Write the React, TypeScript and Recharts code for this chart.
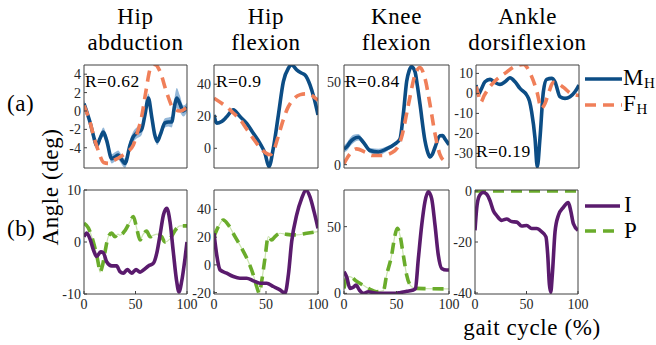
import React from 'react';
import { ComposedChart, Line, Area, XAxis, YAxis } from 'recharts';

// ---------------- tick labels ----------------
const xTicks = [0, 50, 100];
const ticksA1 = [-4, -2, 0, 2, 4];
const ticksA2 = [0, 20, 40];
const ticksA3 = [0, 50];
const ticksA4 = [-30, -20, -10, 0, 10];
const ticksB1 = [-10, 0, 10];
const ticksB2 = [-20, 0, 20, 40];
const ticksB3 = [0, 50];
const ticksB4 = [-40, -20, 0];

const titles = [['Hip', 'abduction'], ['Hip', 'flexion'], ['Knee', 'flexion'], ['Ankle', 'dorsiflexion']];
const rValues = ['R=0.62', 'R=0.9', 'R=0.84', 'R=0.19'];

// ---------------- (a) hip abduction ----------------
const abdMx = [0, 3, 5.8, 9, 12.3, 15.5, 18.8, 22, 26.9, 30, 33.3, 36, 39.8, 44.7, 47.9, 51.1, 56, 59.2, 62.5, 65.7, 68.5, 71.2, 74, 78.6, 82, 85.1, 88, 90, 93, 96.4, 100];
const abdMy = [0.8, -0.2, -1.2, -2.6, -3.8, -3.0, -2.3, -3.2, -5.2, -5.0, -4.8, -5.2, -5.7, -3.7, -2.8, -2.4, -2.0, -0.4, 1.4, -0.6, -2.5, -3.3, -2.6, -1.3, -1.2, -1.2, 0.6, 1.4, 0.8, 0.0, 0.4];
const abdMsd = [0.4, 0.4, 0.4, 0.4, 0.4, 0.4, 0.5, 0.5, 0.5, 0.5, 0.5, 0.5, 0.5, 0.6, 0.6, 0.6, 0.6, 0.5, 0.5, 0.5, 0.4, 0.4, 0.4, 0.5, 0.5, 0.6, 0.9, 1.1, 0.9, 0.6, 0.5];
const abdFx = [0, 5.8, 10, 12.3, 16, 19, 24, 28.5, 35, 41.4, 47.9, 51.1, 56, 60.2, 64, 67.3, 70, 73.8, 80.3, 86.7, 93.2, 100];
const abdFy = [0.6, -1.2, -3.0, -3.8, -5.0, -5.6, -5.7, -5.4, -5.0, -4.5, -3.7, -2.6, -0.6, 2.2, 4.5, 5.1, 5.0, 4.3, 2.0, 0.3, 0.0, 0.4];

// ---------------- (a) hip flexion ----------------
const flxMx = [0, 2.6, 7.4, 12, 18.6, 25, 31.4, 37.8, 44.2, 49, 52.9, 57, 61.9, 66.7, 71.5, 74.7, 79.5, 84, 87.5, 92.3, 96.2, 100];
const flxMy = [20.8, 15.6, 16.7, 19.5, 24, 19.8, 15.6, 9.4, 3.1, -3.1, -11.5, 0, 20.8, 41.6, 50, 52, 49, 47, 45.8, 39.6, 31.3, 20.8];
const flxFx = [0, 7.4, 12, 18.6, 25, 31.4, 37.8, 44.2, 50, 54, 57, 62, 66.7, 71.5, 77, 83, 88, 93, 97, 100];
const flxFy = [31.3, 28.1, 26, 22, 18, 12, 6, 0.5, -3, -4, -2, 8, 18, 26, 31, 33.5, 34, 33.5, 31.5, 30];

// ---------------- (a) knee flexion ----------------
const knMx = [0, 3, 5.7, 9, 13.7, 18.4, 24.8, 32.7, 40.6, 48.6, 53.3, 56.5, 59.7, 62, 64.4, 67.6, 70, 72.4, 77.1, 80, 81.9, 84, 86.7, 91.4, 94, 96.2, 100];
const knMy = [9.5, 11, 13.5, 15.5, 16.5, 13.5, 8.5, 7.6, 9.5, 12.5, 15.5, 30.4, 50.2, 56.5, 59, 56, 47, 36.3, 14.5, 7, 4.6, 6, 10.5, 17.4, 17.5, 15.5, 12];
const knMsd = [2, 2.5, 2.5, 2.5, 2, 1.5, 1.5, 2, 1.5, 1, 1, 1, 1, 1, 1, 1, 1, 1, 1, 1, 1, 1, 1, 1, 1, 1, 1];
const knFx = [0, 5.7, 12, 20, 27, 36, 48.6, 54.8, 61.3, 67.6, 72.4, 77.1, 81.9, 86.7, 91.4, 96, 100];
const knFy = [0.6, 6.5, 9.5, 7.6, 5.5, 5.5, 8.5, 16.5, 36, 54, 58.5, 52, 36.3, 18.5, 6, 2, 0.5];

// ---------------- (a) ankle dorsiflexion ----------------
const ankMx = [0, 2.3, 5, 8.7, 13.6, 18.4, 23.3, 28.2, 33, 37.9, 42.7, 49.2, 52, 54, 57.3, 59.5, 62.1, 65.4, 68.6, 73.5, 76.7, 81.6, 86.4, 91.3, 96.1, 100];
const ankMy = [4.2, -0.5, 2, 5.8, 7, 5.5, 4.5, 5.8, 7.8, 5.8, 2.5, -0.8, -4, -9.2, -22.5, -36.7, -22.5, 0.8, 7, 7.5, 5.8, -1.7, -2.5, -1.7, 0.8, 4.2];
const ankFx = [0, 2.5, 4.5, 8, 13, 18, 28, 37, 46, 52.7, 59.2, 63.5, 67, 71, 75, 79, 85, 92, 100];
const ankFy = [3.5, -1, -4.5, -1, 3, 6, 10, 13.3, 14.5, 10, 0.8, -7.5, -5, 1, 5.5, 5, 3, 0, -1];

// ---------------- (b) hip abduction ----------------
const bAbdIx = [0, 2.6, 5.8, 9.1, 12.3, 16.2, 18.8, 22, 26.9, 31.7, 34.9, 38.2, 42, 46.3, 50.5, 54.4, 58.3, 62.5, 67.3, 70.6, 73.8, 77.1, 80.3, 83.5, 86.7, 90, 92.2, 94.8, 98.1, 100];
const bAbdIy = [1.0, 1.7, 0.6, -1.5, -2.8, -1.9, -2.1, -3.8, -4.6, -4.6, -5.7, -6.0, -5.3, -6.0, -5.3, -5.8, -5.3, -4.6, -4.1, -2.2, 1.3, 5.2, 6.5, 3.9, -1.9, -7.6, -9.6, -7.6, -3.1, 0];
const bAbdPx = [0, 4.2, 9.1, 13.9, 15.5, 18, 20.4, 23.6, 26.9, 30.1, 33, 35, 39.8, 44.7, 47.9, 51.1, 54.4, 57.5, 60.8, 64.1, 67.3, 71, 75.4, 78.6, 83.5, 88.3, 93.2, 100];
const bAbdPy = [3.6, 2.7, 0, -4.1, -5.8, -4.5, -1.9, 1.0, 1.7, 1.0, 1.5, 1.3, 2.2, 3.9, 4.9, 2.7, 0.4, 1.5, 2.1, 1.0, 1.3, 1.5, 1.0, 0, 0.6, 2.2, 3.1, 3.1];

// ---------------- (b) hip flexion ----------------
const bFlxIx = [0, 2.6, 5.8, 12.2, 18.6, 25, 31.4, 37.8, 44.2, 50.6, 57.1, 63.5, 68.3, 71.5, 74.7, 79.5, 84.3, 88.5, 92.3, 96.2, 100];
const bFlxIy = [22.8, 7.2, -3.6, -6, -8.4, -9.6, -9.6, -11.5, -13.2, -13.2, -15.6, -18, -20.4, -7.2, 16.8, 36, 48, 54, 49, 38.4, 26.4];
const bFlxPx = [0, 4.2, 9, 13.8, 20.2, 26.6, 33, 37.8, 41, 43.6, 45.8, 49, 52.2, 55.4, 58.6, 63.5, 69.9, 79.5, 89.1, 100];
const bFlxPy = [20.4, 27.6, 32.4, 28.8, 20.4, 12, 2.4, -7.2, -15.6, -20.4, -12, 4.8, 20.4, 18, 20.4, 22.8, 22, 21.6, 22.8, 24];

// ---------------- (b) knee flexion ----------------
const bKnIx = [0, 2.5, 5.7, 8.9, 11.4, 14.6, 18.4, 23.2, 28, 34.3, 47, 53, 59.7, 66, 68, 70.8, 74, 77.1, 80.3, 83.5, 86.7, 89.8, 93, 97.8, 100];
const bKnIy = [16.2, 12.5, 3.7, 4.5, 6.2, 2.5, 0, 1.2, 0.5, 0, 0, 0.5, 1.5, 2.5, 3.5, 26, 51, 68.7, 76.2, 71, 51, 28.7, 18.7, 17.5, 17.5];
const bKnPx = [0, 2.5, 5.7, 12, 18.4, 24.8, 31.1, 37.5, 40.6, 45.4, 48.6, 50.8, 53.3, 56.5, 59.7, 64.4, 69.2, 78.7, 100];
const bKnPy = [3.7, 11.2, 12.5, 9, 6, 3, 1.2, 2, 13.7, 28.7, 43.7, 48.7, 43.7, 28.7, 13.7, 5, 3.7, 3.5, 3.3];

// ---------------- (b) ankle dorsiflexion ----------------
const bAnkIx = [0, 1.6, 4.2, 8, 11.3, 14.6, 17.8, 21, 25.9, 30.7, 35.6, 40.5, 45.3, 50.2, 55, 59.9, 64.7, 68.9, 70.6, 72.2, 73.5, 75.1, 77.7, 80.9, 85.8, 90.6, 92.9, 95.5, 100];
const bAnkIy = [-15.4, -7, -1.9, -0.6, -1.2, -3.8, -7.7, -9.6, -11.5, -11, -12, -12.2, -13.7, -13.5, -14.7, -14.7, -16, -18, -25, -36.5, -39.7, -32.7, -16, -9.6, -6.4, -4.5, -7.7, -12.8, -15.4];
const bAnkPx = [0, 100];
const bAnkPy = [0, 0];

// ---------------- styling ----------------
const C_M = '#0c4d85';
const C_BAND = '#93b7d8';
const C_F = '#f07f59';
const C_I = '#5a1b6d';
const C_P = '#6aac2b';
const C_PL = '#cbe4b0';
const DASH = '11 7';
const LWID = 3.6;
const SERIF = "'Liberation Serif', 'Times New Roman', serif";

type Pt = { x: number; y: number; band?: number[] };
const pts = (xs: number[], ys: number[]): Pt[] => xs.map((x, i) => ({ x, y: ys[i] }));
const bandPts = (xs: number[], ys: number[], sd: number[]): Pt[] =>
  xs.map((x, i) => ({ x, y: ys[i], band: [ys[i] - sd[i], ys[i] + sd[i]] }));

type S = { data: Pt[]; color: string; width: number; dash?: string };

function Panel(p: {
  box: number[];
  yDomain: number[];
  yTicks: number[];
  showX: boolean;
  band?: Pt[];
  lines: S[];
}) {
  const [x0, x1, y0, y1] = p.box;
  const LW = 40, RW = 4, TH = 4;
  const MT = 10, MR = 16;
  const BH = p.showX ? 24 : 4;
  const width = x1 - x0 + LW + RW + MR;
  const height = y1 - y0 + TH + BH + MT;
  const axisStroke = '#404040';
  const tickStyle = { fontFamily: SERIF, fontSize: 14, fill: '#262626' };
  return (
    <div style={{ position: 'absolute', left: x0 - LW, top: y0 - TH - MT, width, height }}>
      <ComposedChart width={width} height={height} data={p.band || []} margin={{ top: MT, right: MR, bottom: 0, left: 0 }}>
        <XAxis xAxisId="b" dataKey="x" type="number" domain={[0, 100]} ticks={xTicks} allowDataOverflow interval={0}
          height={BH} tickSize={-3} tickMargin={p.showX ? 8 : 0} tick={p.showX ? tickStyle : false} stroke={axisStroke} />
        <XAxis xAxisId="t" orientation="top" dataKey="x" type="number" domain={[0, 100]} ticks={xTicks} allowDataOverflow interval={0}
          height={TH} tickSize={-3} tick={false} stroke={axisStroke} />
        <YAxis yAxisId="l" type="number" domain={p.yDomain} ticks={p.yTicks} allowDataOverflow interval={0}
          width={LW} tickSize={-3} tickMargin={6} tick={tickStyle} stroke={axisStroke} />
        <YAxis yAxisId="r" orientation="right" type="number" domain={p.yDomain} ticks={p.yTicks} allowDataOverflow interval={0}
          width={RW} tickSize={-3} tick={false} stroke={axisStroke} />
        {p.band && (
          <Area xAxisId="b" yAxisId="l" dataKey="band" type="monotone" stroke="none" fill={C_BAND} fillOpacity={1}
            isAnimationActive={false} activeDot={false} />
        )}
        {p.lines.map((s, i) => (
          <Line key={i} xAxisId="b" yAxisId="l" data={s.data} dataKey="y" type="monotone" stroke={s.color}
            strokeWidth={s.width} strokeDasharray={s.dash} dot={false} activeDot={false} isAnimationActive={false} />
        ))}
      </ComposedChart>
    </div>
  );
}

const boxesA = [[84, 187, 65, 168], [214, 318, 65, 168], [344, 449, 65, 168], [476, 579, 65, 168]];
const boxesB = [[84, 187, 190, 294], [214, 318, 190, 294], [344, 449, 190, 294], [475, 578, 190, 294]];

export default function App() {
  const abdM = bandPts(abdMx, abdMy, abdMsd);
  const knM = bandPts(knMx, knMy, knMsd);
  const pThin = (d: Pt[]): S => ({ data: d, color: C_PL, width: 1.2 });
  const pDash = (d: Pt[]): S => ({ data: d, color: C_P, width: LWID, dash: DASH });
  const iLine = (d: Pt[]): S => ({ data: d, color: C_I, width: LWID });
  const mLine = (d: Pt[]): S => ({ data: d, color: C_M, width: LWID });
  const fLine = (d: Pt[]): S => ({ data: d, color: C_F, width: LWID, dash: DASH });

  const rPos = [[85, 86.5], [216, 86.5], [345, 86.5], [476, 156.5]];
  const big = { fontFamily: SERIF, fontSize: 23, letterSpacing: 0.6 };

  return (
    <div style={{ position: 'absolute', left: 0, top: 0, width: 656, height: 345, background: '#fff', overflow: 'hidden' }}>
      <Panel box={boxesA[0]} yDomain={[-6.2, 5]} yTicks={ticksA1} showX={false} band={abdM}
        lines={[mLine(abdM), fLine(pts(abdFx, abdFy))]} />
      <Panel box={boxesA[1]} yDomain={[-12.3, 52]} yTicks={ticksA2} showX={false}
        lines={[mLine(pts(flxMx, flxMy)), fLine(pts(flxFx, flxFy))]} />
      <Panel box={boxesA[2]} yDomain={[-2, 60]} yTicks={ticksA3} showX={false} band={knM}
        lines={[mLine(knM), fLine(pts(knFx, knFy))]} />
      <Panel box={boxesA[3]} yDomain={[-37.3, 14.2]} yTicks={ticksA4} showX={false}
        lines={[mLine(pts(ankMx, ankMy)), fLine(pts(ankFx, ankFy))]} />

      <Panel box={boxesB[0]} yDomain={[-10, 10]} yTicks={ticksB1} showX
        lines={[pThin(pts(bAbdPx, bAbdPy)), pDash(pts(bAbdPx, bAbdPy)), iLine(pts(bAbdIx, bAbdIy))]} />
      <Panel box={boxesB[1]} yDomain={[-21, 54]} yTicks={ticksB2} showX
        lines={[pThin(pts(bFlxPx, bFlxPy)), pDash(pts(bFlxPx, bFlxPy)), iLine(pts(bFlxIx, bFlxIy))]} />
      <Panel box={boxesB[2]} yDomain={[-0.5, 77.5]} yTicks={ticksB3} showX
        lines={[pThin(pts(bKnPx, bKnPy)), pDash(pts(bKnPx, bKnPy)), iLine(pts(bKnIx, bKnIy))]} />
      <Panel box={boxesB[3]} yDomain={[-40.4, 0.4]} yTicks={ticksB4} showX
        lines={[pDash(pts(bAnkPx, bAnkPy)), iLine(pts(bAnkIx, bAnkIy))]} />

      <svg width={656} height={345} style={{ position: 'absolute', left: 0, top: 0, pointerEvents: 'none', fontFamily: SERIF }}
        fill="#000">
        {titles.map((t, i) => {
          const cx = (boxesA[i][0] + boxesA[i][1]) / 2;
          return (
            <g key={i}>
              <text x={cx} y={24} style={big} textAnchor="middle">{t[0]}</text>
              <text x={cx} y={50} style={big} textAnchor="middle">{t[1]}</text>
            </g>
          );
        })}
        {rValues.map((r, i) => (
          <text key={r} x={rPos[i][0]} y={rPos[i][1]} style={{ fontFamily: SERIF, fontSize: 17.5, letterSpacing: 0.4 }}>{r}</text>
        ))}
        <text x={7} y={111} style={big}>(a)</text>
        <text x={7} y={236} style={big}>(b)</text>
        <text x={58} y={187} style={big} textAnchor="middle" transform="rotate(-90 58 187)">Angle (deg)</text>
        <text x={532} y={335} style={big} textAnchor="middle">gait cycle (%)</text>

        <line x1={585} y1={79} x2={622} y2={79} stroke={C_M} strokeWidth={LWID} />
        <text x={623} y={85} style={big}>M<tspan fontSize={15} dy={3}>H</tspan></text>
        <line x1={585} y1={105} x2={622} y2={105} stroke={C_F} strokeWidth={LWID} strokeDasharray={DASH} />
        <text x={623} y={111} style={big}>F<tspan fontSize={15} dy={3}>H</tspan></text>

        <line x1={585} y1={206} x2={620} y2={206} stroke={C_I} strokeWidth={LWID} />
        <text x={624} y={212} style={big}>I</text>
        <line x1={585} y1={231} x2={620} y2={231} stroke={C_P} strokeWidth={LWID} strokeDasharray={DASH} />
        <text x={624} y={238} style={big}>P</text>
      </svg>
    </div>
  );
}
